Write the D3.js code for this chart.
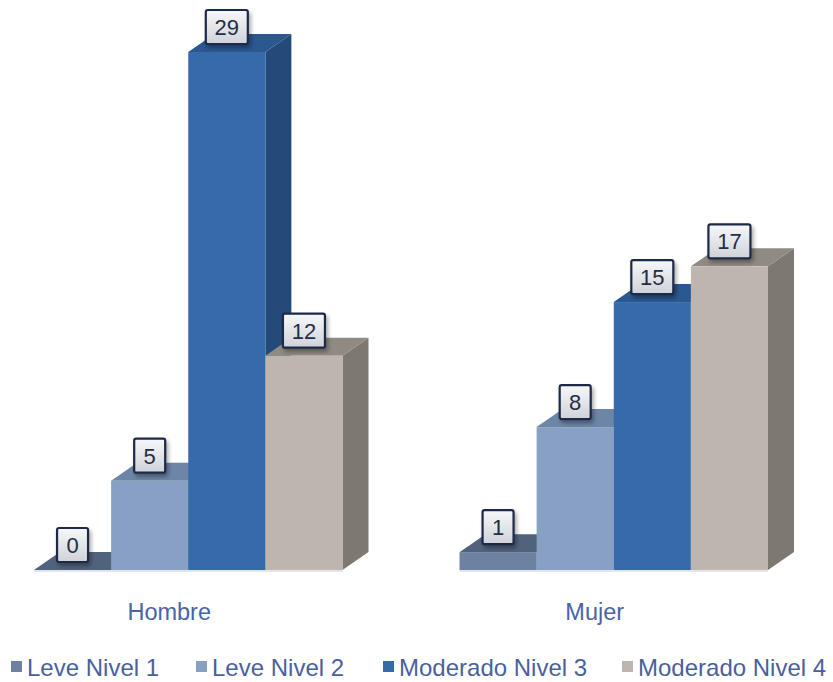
<!DOCTYPE html>
<html>
<head>
<meta charset="utf-8">
<script src="https://cdn.jsdelivr.net/npm/d3@7/dist/d3.min.js"></script>
<style>
  html, body { margin: 0; padding: 0; background: #ffffff; }
  svg { display: block; font-family: "Liberation Sans", Arial, sans-serif; }
</style>
</head>
<body>
<svg id="chart" width="833" height="682"></svg>
<script>
// Categories and series
const categories = ["Hombre", "Mujer"];
const seriesNames = ["Leve Nivel 1", "Leve Nivel 2", "Moderado Nivel 3", "Moderado Nivel 4"];
// Values per series, one entry per category
const leveNivel1 = [0, 1];
const leveNivel2 = [5, 8];
const moderadoNivel3 = [29, 15];
const moderadoNivel4 = [12, 17];
const seriesValues = [leveNivel1, leveNivel2, moderadoNivel3, moderadoNivel4];

// Face colours for each series: front, top, side
const faceColors = [
  { front: "#6d81a1", top: "#51637c", side: "#4d5e77" },
  { front: "#87a0c3", top: "#6d85a6", side: "#687f9f" },
  { front: "#356bab", top: "#2b5891", side: "#244a7a" },
  { front: "#bdb5ae", top: "#8f8a82", side: "#7d7970" }
];

const svg = d3.select("#chart");
const depthX = 26, depthY = -18;

const x0 = d3.scaleBand().domain(categories).range([34, 768]).paddingInner(0.275).paddingOuter(0);
const x1 = d3.scaleBand().domain(seriesNames).range([0, x0.bandwidth()]).padding(0);
const y = d3.scaleLinear().domain([0, 29]).range([570, 52]);

// Drop shadow and label gradient
const defs = svg.append("defs");
const shadow = defs.append("filter").attr("id", "lblShadow")
  .attr("x", "-30%").attr("y", "-30%").attr("width", "170%").attr("height", "170%");
shadow.append("feGaussianBlur").attr("in", "SourceAlpha").attr("stdDeviation", 2).attr("result", "b");
shadow.append("feOffset").attr("in", "b").attr("dx", 2).attr("dy", 3).attr("result", "o");
shadow.append("feComponentTransfer").attr("in", "o").attr("result", "s")
  .append("feFuncA").attr("type", "linear").attr("slope", 0.35);
const merge = shadow.append("feMerge");
merge.append("feMergeNode").attr("in", "s");
merge.append("feMergeNode").attr("in", "SourceGraphic");

const grad = defs.append("linearGradient").attr("id", "lblFill")
  .attr("x1", 0).attr("y1", 0).attr("x2", 0).attr("y2", 1);
grad.append("stop").attr("offset", "0%").attr("stop-color", "#f7f8fa");
grad.append("stop").attr("offset", "100%").attr("stop-color", "#cfd2d9");

// Thin light edge under each group of bars
svg.append("g").selectAll("line").data(categories).join("line")
  .attr("x1", d => x0(d)).attr("x2", d => x0(d) + x0.bandwidth())
  .attr("y1", y(0) + 1).attr("y2", y(0) + 1)
  .attr("stroke", "#dfe6f0").attr("stroke-width", 2);

// 3D bars, drawn left to right so later faces cover earlier sides
const bars = [];
categories.forEach((cat, ci) => {
  seriesNames.forEach((s, si) => {
    bars.push({ cat, ci, s, si, value: seriesValues[si][ci] });
  });
});

const barG = svg.append("g");
bars.forEach(d => {
  const xl = x0(d.cat) + x1(d.s);
  const xr = xl + x1.bandwidth();
  const yt = y(d.value);
  const yb = y(0);
  const c = faceColors[d.si];
  const g = barG.append("g");
  // side
  g.append("path")
    .attr("d", `M${xr},${yb} L${xr + depthX},${yb + depthY} L${xr + depthX},${yt + depthY} L${xr},${yt} Z`)
    .attr("fill", c.side);
  // top
  g.append("path")
    .attr("d", `M${xl},${yt} L${xl + depthX},${yt + depthY} L${xr + depthX},${yt + depthY} L${xr},${yt} Z`)
    .attr("fill", c.top);
  // front
  g.append("rect")
    .attr("x", xl).attr("y", yt).attr("width", xr - xl).attr("height", yb - yt)
    .attr("fill", c.front);
});

// Value labels
const lblG = svg.append("g");
bars.forEach(d => {
  const cx = x0(d.cat) + x1(d.s) + x1.bandwidth() / 2;
  const cy = y(d.value) - 25;
  const txt = String(d.value);
  const w = txt.length > 1 ? 42 : 31;
  const h = 34;
  const g = lblG.append("g");
  g.append("rect")
    .attr("x", cx - w / 2).attr("y", cy - h / 2).attr("width", w).attr("height", h)
    .attr("rx", 2)
    .attr("fill", "url(#lblFill)")
    .attr("stroke", "#1f2946").attr("stroke-width", 2.2)
    .attr("filter", "url(#lblShadow)");
  g.append("text")
    .attr("x", cx).attr("y", cy + 8)
    .attr("text-anchor", "middle")
    .attr("font-size", 22)
    .attr("fill", "#252d45")
    .text(txt);
});

// Category labels
svg.append("g").selectAll("text").data(categories).join("text")
  .attr("x", d => x0(d) + x0.bandwidth() / 2 - 19)
  .attr("y", 620)
  .attr("text-anchor", "middle")
  .attr("font-size", 23.5)
  .attr("fill", "#4964a8")
  .text(d => d);

// Legend
const legendX = [11, 196, 383, 622];
const leg = svg.append("g");
seriesNames.forEach((s, i) => {
  const g = leg.append("g").attr("transform", `translate(${legendX[i]},0)`);
  g.append("rect").attr("x", 0).attr("y", 661).attr("width", 11).attr("height", 11)
    .attr("fill", faceColors[i].front);
  g.append("text")
    .attr("x", 16).attr("y", 676)
    .attr("font-size", 24)
    .attr("fill", "#4a5f9f")
    .text(s);
});
</script>
</body>
</html>
